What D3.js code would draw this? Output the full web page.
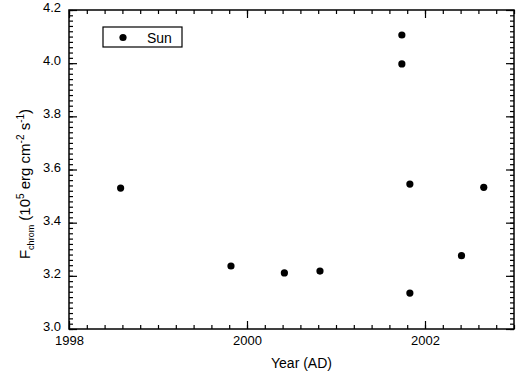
<!DOCTYPE html>
<html>
<head>
<meta charset="utf-8">
<script src="https://cdn.jsdelivr.net/npm/d3@7"></script>
<style>
  body { margin: 0; background: #fff; }
  text { font-family: "Liberation Sans", Arial, sans-serif; fill: #000; }
</style>
</head>
<body>
<svg id="viz"></svg>
<script>
/* data */
var years = [1998.58, 1999.82, 2000.42, 2000.82, 2001.74, 2001.74, 2001.83, 2001.83, 2002.41, 2002.66];
var fluxes = [3.530, 3.237, 3.211, 3.218, 4.106, 3.997, 3.545, 3.135, 3.276, 3.533];
var xTicks = [1998, 2000, 2002];
var yTicks = [3.0, 3.2, 3.4, 3.6, 3.8, 4.0, 4.2];
var seriesName = "Sun";

var margin = { top: 10, right: 2, bottom: 50, left: 69 },
	width = 516 - margin.left - margin.right,
	height = 379 - margin.top - margin.bottom;

var svg = d3.select('#viz')
		.attr('width', 516)
		.attr('height', 379);
var g = svg.append('g')
		.attr('transform', 'translate(' + margin.left + ',' + margin.top + ')');

var x = d3.scaleLinear()
	.domain([1998, 2003])
	.range([0, width]);

var y = d3.scaleLinear()
	.domain([3.0, 4.2])
	.range([height, 0]);

var xMinor = d3.range(1998, 2003.001, 0.2);
var yMinor = d3.range(3.0, 4.2001, 0.02);

// inward ticks on all four sides
var bottomG = g.append('g').attr('transform', 'translate(0,' + height + ')');
bottomG.call(d3.axisBottom(x).tickValues(xMinor).tickSize(-4).tickFormat(''));
bottomG.append('g').call(d3.axisBottom(x).tickValues(xTicks).tickSize(-8).tickFormat(''));
bottomG.append('g').attr('class', 'xlab')
	.call(d3.axisBottom(x).tickValues(xTicks).tickSize(0).tickPadding(7)
	.tickFormat(d3.format('d')));

var topG = g.append('g');
topG.call(d3.axisTop(x).tickValues(xMinor).tickSize(-4).tickFormat(''));
topG.append('g').call(d3.axisTop(x).tickValues(xTicks).tickSize(-8).tickFormat(''));

var leftG = g.append('g');
leftG.call(d3.axisLeft(y).tickValues(yMinor).tickSize(-4).tickFormat(''));
leftG.append('g').call(d3.axisLeft(y).tickValues(yTicks).tickSize(-8).tickFormat(''));
leftG.append('g').attr('class', 'ylab')
	.call(d3.axisLeft(y).tickValues(yTicks).tickSize(0).tickPadding(8)
	.tickFormat(d3.format('.1f')));

var rightG = g.append('g').attr('transform', 'translate(' + width + ',0)');
rightG.call(d3.axisRight(y).tickValues(yMinor).tickSize(-4).tickFormat(''));
rightG.append('g').call(d3.axisRight(y).tickValues(yTicks).tickSize(-8).tickFormat(''));

g.selectAll('.domain').remove();
g.selectAll('.tick line').attr('stroke', '#000').attr('stroke-width', 1.2);
g.selectAll('.tick text').attr('font-size', 13).attr('fill', '#000')
	.attr('font-family', '"Liberation Sans", Arial, sans-serif');
g.selectAll('.ylab .tick text').attr('dy', '0.12em');

g.append('rect')
	.attr('width', width)
	.attr('height', height)
	.attr('fill', 'none')
	.attr('stroke', '#000')
	.attr('stroke-width', 1.5);

// points
g.selectAll('circle.pt')
	.data(years.map(function(d, i){ return [d, fluxes[i]]; }))
	.enter().append('circle')
	.attr('class', 'pt')
	.attr('cx', function(d){ return x(d[0]); })
	.attr('cy', function(d){ return y(d[1]); })
	.attr('r', 3.6)
	.attr('fill', '#000');

// legend
var legend = g.append('g').attr('transform', 'translate(' + (103 - margin.left) + ',' + (27 - margin.top) + ')');
legend.append('rect')
	.attr('width', 79).attr('height', 20)
	.attr('fill', '#fff').attr('stroke', '#000').attr('stroke-width', 1.2);
legend.append('circle').attr('cx', 20).attr('cy', 10.5).attr('r', 3.6).attr('fill', '#000');
legend.append('text').attr('x', 44).attr('y', 15.5).attr('font-size', 14).text(seriesName);

// axis titles
svg.append('text')
	.attr('x', margin.left + width / 2 + 10)
	.attr('y', 368)
	.attr('text-anchor', 'middle')
	.attr('font-size', 14)
	.text('Year (AD)');

var yl = svg.append('text')
	.attr('transform', 'translate(30,' + 184 + ') rotate(-90)')
	.attr('text-anchor', 'middle')
	.attr('font-size', 15);
yl.append('tspan').text('F');
yl.append('tspan').attr('font-size', 9).attr('dy', 4).text('chrom');
yl.append('tspan').attr('dy', -4).text(' (10');
yl.append('tspan').attr('font-size', 10).attr('dy', -6).text('5');
yl.append('tspan').attr('dy', 6).text(' erg cm');
yl.append('tspan').attr('font-size', 10).attr('dy', -6).text('-2');
yl.append('tspan').attr('dy', 6).text(' s');
yl.append('tspan').attr('font-size', 10).attr('dy', -6).text('-1');
yl.append('tspan').attr('dy', 6).text(')');
</script>
</body>
</html>
